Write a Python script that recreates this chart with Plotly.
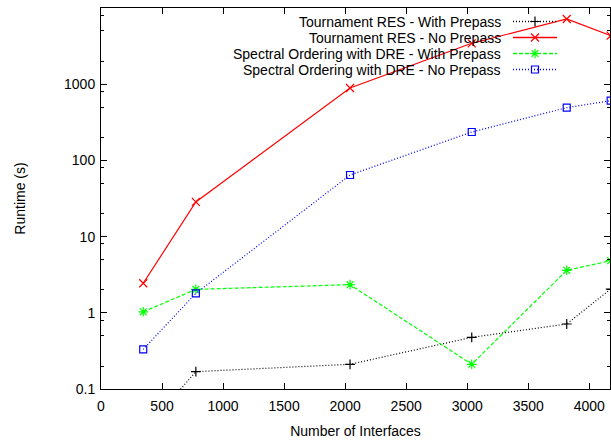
import plotly.graph_objects as go

interfaces = [346, 777, 2040, 3037, 3815, 4175]
tourn_with = [0.027, 0.169, 0.211, 0.476, 0.713, 2.05]
tourn_no = [2.44, 28.5, 891, 3440, 7180, 4330]
spec_with = [1.03, 2.03, 2.34, 0.211, 3.61, 4.83]
spec_no = [0.332, 1.80, 64.3, 236, 492, 607]

names = ["Tournament RES - With Prepass", "Tournament RES - No Prepass",
         "Spectral Ordering with DRE - With Prepass", "Spectral Ordering with DRE - No Prepass"]
series = [tourn_with, tourn_no, spec_with, spec_no]
colors = ["#000000", "#ff0000", "#00ff00", "#0000ff"]
dashes = ["1px,2px", "solid", "4px,2px", "1px,2px"]
symbols = ["cross-thin-open", "x-thin-open", "asterisk-open", "square-open"]
sizes = [7, 8, 8, 7]

x_ticks = list(range(0, 4001, 500))
y_ticks = [0.1, 1, 10, 100, 1000, 10000]
y_minor = [m * 10 ** e for e in range(-1, 4) for m in (2, 5, 8)]

W, H = 611, 440
L, R, T, B = 101, 610, 8, 389

fig = go.Figure()
for name, ys, c, d, s, sz in zip(names, series, colors, dashes, symbols, sizes):
    fig.add_trace(go.Scatter(
        x=interfaces, y=ys, mode="lines+markers", name=name, showlegend=False,
        line=dict(color=c, width=1.2, dash=d),
        marker=dict(symbol=s, size=sz, color=c, line=dict(color=c, width=1.2)),
    ))

# custom gnuplot-style key (text right aligned, sample to the right)
row_y = [21.5, 37.5, 53.5, 69.5]
for i, (name, c, d, s, sz) in enumerate(zip(names, colors, dashes, symbols, sizes)):
    fig.add_shape(type="line", xref="x2", yref="y2", x0=513, x1=557,
                  y0=row_y[i], y1=row_y[i], line=dict(color=c, width=1.5, dash=d))
    fig.add_trace(go.Scatter(
        x=[535], y=[row_y[i]], xaxis="x2", yaxis="y2", mode="markers",
        marker=dict(symbol=s, size=sz, color=c, line=dict(color=c, width=1.2)),
        showlegend=False, hoverinfo="skip"))
    fig.add_annotation(x=503, y=row_y[i], xref="x2", yref="y2", text=name,
                       showarrow=False, xanchor="right", yanchor="middle",
                       font=dict(size=14, color="black"))

axis_common = dict(showline=True, linecolor="black", linewidth=1, mirror="ticks",
                   ticks="inside", tickcolor="black", ticklen=6, tickwidth=1,
                   showgrid=False, zeroline=False, automargin=False,
                   tickfont=dict(size=14, color="black"))

fig.update_layout(
    width=W, height=H,
    margin=dict(l=L, r=W - R, t=T, b=H - B, pad=0),
    paper_bgcolor="white", plot_bgcolor="white",
    font=dict(family="Liberation Sans, Arial, sans-serif", size=14, color="black"),
    xaxis=dict(range=[0, (R - L) / (589.3 - L) * 4000], tickvals=x_ticks,
               ticklabelstandoff=4,
               title=dict(text="Number of Interfaces", standoff=13, font=dict(size=14)),
               **axis_common),
    yaxis=dict(type="log", range=[-1, 4], tickvals=y_ticks,
               ticktext=[str(v) for v in y_ticks], ticklabelstandoff=2,
               title=dict(text="Runtime (s)", standoff=35, font=dict(size=14)),
               minor=dict(tickvals=y_minor, ticks="inside", ticklen=3, tickcolor="black"),
               **axis_common),
    xaxis2=dict(range=[L, R], overlaying="x", visible=False, fixedrange=True),
    yaxis2=dict(range=[B, T], overlaying="y", visible=False, fixedrange=True),
)

fig.write_html("out.html", config={"displayModeBar": False},
               post_script="document.body.style.margin='0';")
